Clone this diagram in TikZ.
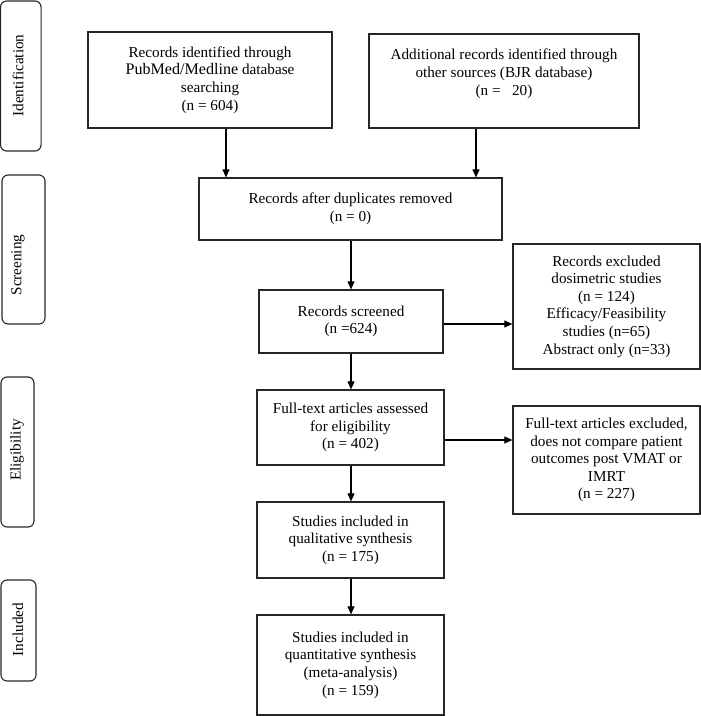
\documentclass[tikz,border=0pt]{standalone}
\usepackage{fontspec}
\setmainfont{Liberation Serif}
\usetikzlibrary{arrows.meta}
\begin{document}
\begin{tikzpicture}[x=1pt,y=-1pt,
  every node/.style={font=\fontsize{15.2}{17.6}\selectfont, inner sep=0pt},
  box/.style={draw=black!85, line width=1.2pt, align=center},
  phase/.style={draw=black!85, line width=1.1pt, rounded corners=6pt},
  phasetext/.style={rotate=90, anchor=center},
  arr/.style={draw=black, line width=1.1pt, -{Triangle[length=8pt,width=7pt]}}]
\useasboundingbox (0,0) rectangle (701,716);

% phase boxes
\node[phase, minimum width=40.5pt, minimum height=150pt] (pid) at (20.8,76) {};
\node[phasetext] (tid) at (18,75.5) {Identification};
\node[phase, minimum width=43pt, minimum height=149pt] (psc) at (23.5,249.5) {};
\node[phasetext] (tsc) at (18,265) {Screening};
\node[phase, minimum width=33pt, minimum height=150pt] (pel) at (17.5,452) {};
\node[phasetext] (tel) at (17,450) {Eligibility};
\node[phase, minimum width=35pt, minimum height=101pt] (pin) at (18.5,630.5) {};
\node[phasetext] (tin) at (18,629.5) {Included};

% main boxes
\node[box, minimum width=244pt, minimum height=96pt] (b1) at (210,80)
  {Records identified through\\ {\fontsize{16.1}{17.6}\selectfont PubMed/Medline} database\\ searching\\ (n = 604)};
\node[box, minimum width=270pt, minimum height=94pt] (b2) at (504,81)
  {Additional records identified through\\ other sources (BJR database)\\ (n =\ \ \ 20)\\ \mbox{}};
\node[box, minimum width=303pt, minimum height=62pt] (b3) at (350.5,209)
  {Records after duplicates removed\\ (n = 0)};
\node[box, minimum width=184pt, minimum height=63pt] (b4) at (351,321.5)
  {Records screened\\ (n =624)};
\node[box, minimum width=187pt, minimum height=125pt] (b5) at (606.5,306.5)
  {Records excluded\\ dosimetric studies\\ (n = 124)\\ Efficacy/Feasibility\\ studies (n=65)\\ Abstract only (n=33)};
\node[box, minimum width=187pt, minimum height=75pt] (b6) at (350.5,427.5)
  {Full-text articles assessed\\ for eligibility\\ (n = 402)};
\node[box, minimum width=187pt, minimum height=108pt] (b7) at (606.5,460)
  {Full-text articles excluded,\\ does not compare patient\\ outcomes post VMAT or\\ IMRT\\ (n = 227)};
\node[box, minimum width=187pt, minimum height=76pt] (b8) at (350.5,540)
  {Studies included in\\ qualitative synthesis\\ (n = 175)};
\node[box, minimum width=187pt, minimum height=100pt] (b9) at (350.5,665)
  {Studies included in\\ quantitative synthesis\\ (meta-analysis)\\ (n = 159)};

% connector helpers
\coordinate (c1) at (226,0);
\coordinate (c2) at (476,0);
\coordinate (c3) at (351,0);
\coordinate (c4) at (0,324);
\coordinate (c5) at (0,440);

% connectors
\draw[arr] (b1.south -| c1) -- (b3.north -| c1);
\draw[arr] (b2.south -| c2) -- (b3.north -| c2);
\draw[arr] (b3.south -| c3) -- (b4.north -| c3);
\draw[arr] (b4.east |- c4) -- (b5.west |- c4);
\draw[arr] (b4.south -| c3) -- (b6.north -| c3);
\draw[arr] (b6.east |- c5) -- (b7.west |- c5);
\draw[arr] (b6.south -| c3) -- (b8.north -| c3);
\draw[arr] (b8.south -| c3) -- (b9.north -| c3);
\end{tikzpicture}
\end{document}
